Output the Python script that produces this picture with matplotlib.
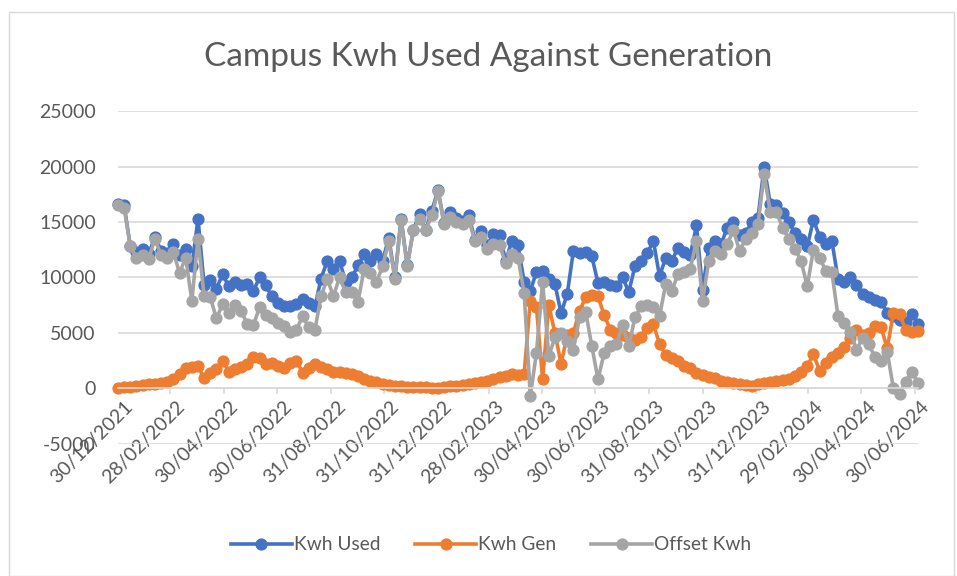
import matplotlib
matplotlib.use("Agg")
import matplotlib.pyplot as plt
import matplotlib.transforms as mtransforms
import pandas as pd
from matplotlib.patches import Rectangle

plt.rcParams['font.family'] = ['Lato', 'DejaVu Sans']

start_date = "2021-12-30"
end_date = "2024-07-04"

kwh_used = [
    16600, 16500, 12800, 12300, 12600, 12100, 13700, 12400, 12200, 13000,
    12000, 12600, 11000, 15300, 9300, 9800, 9000, 10300, 9200, 9600,
    9300, 9400, 8800, 10000, 9300, 8300, 7700, 7400, 7400, 7600,
    8100, 7700, 7400, 9900, 11500, 10800, 11500, 9600, 10000, 11100,
    12100, 11500, 12100, 11500, 13600, 10000, 15300, 11100, 14300, 15700,
    14300, 16000, 17900, 14900, 15900, 15400, 15100, 15600, 13400, 14200,
    12900, 13900, 13800, 11500, 13300, 12900, 9600, 8800, 10500, 10600,
    9900, 9400, 6800, 8500, 12400, 12200, 12300, 11900, 9500, 9600,
    9300, 9200, 10000, 8700, 11000, 11500, 12200, 13300, 10100, 11800,
    11500, 12700, 12300, 12000, 14700, 8900, 12700, 13300, 13000, 14500,
    15000, 13800, 14000, 15000, 15400, 20000, 16600, 16500, 15800, 15000,
    14000, 13500, 12800, 15200, 13700, 13000, 13300, 9900, 9600, 10000,
    9300, 8500, 8200, 8000, 7800, 6800, 6500, 6200, 6000, 6700,
    5800,
]

kwh_gen = [
    0, 100, 150, 200, 300, 350, 400, 500, 600, 800,
    1300, 1800, 1900, 2000, 900, 1400, 1700, 2500, 1500, 1700,
    1900, 2200, 2800, 2700, 2200, 2300, 2000, 1800, 2300, 2500,
    1400, 1800, 2200, 1900, 1700, 1500, 1500, 1400, 1300, 1100,
    800, 700, 600, 400, 300, 250, 200, 150, 150, 100,
    100, 50, 50, 150, 200, 250, 300, 400, 500, 600,
    700, 850, 1000, 1150, 1300, 1200, 1300, 7900, 7300, 800,
    7500, 5000, 2200, 4800, 5000, 7000, 8200, 8400, 8300, 6600,
    5300, 5000, 4800, 4500, 4400, 4600, 5400, 5800, 4000, 3000,
    2700, 2500, 2000, 1800, 1400, 1200, 1000, 900, 700, 600,
    500, 350, 300, 250, 400, 500, 600, 700, 750, 850,
    1100, 1500, 2000, 3100, 1600, 2300, 2800, 3200, 3700, 4500,
    5300, 4800, 5000, 5600, 5500, 3600, 6800, 6700, 5300, 5100,
    5200,
]

offset_kwh = [
    16500, 16300, 12800, 11800, 12000, 11700, 13500, 12000, 11800, 12300,
    10400, 11800, 7900, 13500, 8300, 8200, 6300, 7600, 6800, 7500,
    7000, 5800, 5700, 7300, 6600, 6300, 5900, 5600, 5100, 5300,
    6500, 5500, 5300, 8300, 9900, 8300, 10000, 8700, 8700, 7800,
    10800, 10400, 9600, 11000, 13300, 9900, 15200, 11000, 14300, 15300,
    14300, 15600, 17800, 14800, 15500, 15000, 14800, 15200, 13300, 13700,
    12600, 13000, 12900, 11300, 12100, 11800, 8600, -700, 3200, 9600,
    2900, 4600, 5000, 4300, 3500, 6400, 6900, 3800, 800, 3200,
    3800, 4000, 5700, 3800, 6400, 7400, 7500, 7300, 6500, 9400,
    8800, 10300, 10500, 10800, 13300, 7900, 11500, 12400, 12100, 13000,
    14300, 12400, 13500, 14000, 14800, 19300, 15900, 15900, 14500, 13500,
    12600, 11500, 9200, 12500, 11800, 10600, 10500, 6500, 5900, 5100,
    3500, 4500, 4000, 2800, 2500, 3300, 0, -500, 600, 1500,
    450,
]

series_names = ["Kwh Used", "Kwh Gen", "Offset Kwh"]
series_colors = ["#4472C4", "#ED7D31", "#A5A5A5"]

tick_dates = ["2021-12-30", "2022-02-28", "2022-04-30", "2022-06-30",
              "2022-08-31", "2022-10-31", "2022-12-31", "2023-02-28",
              "2023-04-30", "2023-06-30", "2023-08-31", "2023-10-31",
              "2023-12-31", "2024-02-29", "2024-04-30", "2024-06-30"]
tick_labels = ["30/12/2021", "28/02/2022", "30/04/2022", "30/06/2022",
               "31/08/2022", "31/10/2022", "31/12/2022", "28/02/2023",
               "30/04/2023", "30/06/2023", "31/08/2023", "31/10/2023",
               "31/12/2023", "29/02/2024", "30/04/2024", "30/06/2024"]
y_ticks = [-5000, 0, 5000, 10000, 15000, 20000, 25000]

title = "Campus Kwh Used Against Generation"

dates = pd.date_range(start_date, end_date, periods=len(kwh_used))

W, H = 957, 576
fig = plt.figure(figsize=(W / 100, H / 100), dpi=100)
fig.patches.append(Rectangle((9 / W, 0), (W - 12) / W, 1 - 12 / H,
                             transform=fig.transFigure, fill=False,
                             edgecolor="#d9d9d9", lw=1))

ax = fig.add_axes([118 / W, 1 - 443.7 / H, 800 / W, (443.7 - 111.3) / H])

for vals, name, col in zip([kwh_used, kwh_gen, offset_kwh], series_names, series_colors):
    ax.plot(dates, vals, color=col, lw=2.6, marker="o", ms=7.8,
            label=name, clip_on=False, solid_joinstyle="round")

for s in ["top", "right", "left"]:
    ax.spines[s].set_visible(False)
ax.spines["bottom"].set_position(("data", 0))
ax.spines["bottom"].set_color("#d9d9d9")
ax.spines["bottom"].set_linewidth(1.2)

ax.set_ylim(y_ticks[0], y_ticks[-1])
ax.set_yticks(y_ticks)
ax.set_yticklabels([str(v) for v in y_ticks])
ax.set_xlim(dates[0], dates[-1])
ax.set_xticks(pd.to_datetime(tick_dates))
ax.set_xticklabels(tick_labels)

ax.grid(axis="y", color="#d9d9d9", lw=1.2)
ax.set_axisbelow(True)
ax.tick_params(axis="x", length=4, width=1.2, color="#d9d9d9",
               labelcolor="#595959", labelsize=14, pad=3)
ax.tick_params(axis="y", length=0, labelcolor="#595959", labelsize=14, pad=16)
shift = mtransforms.ScaledTranslation(6 / 100, 0, fig.dpi_scale_trans)
for lbl in ax.get_xticklabels():
    lbl.set_rotation(45)
    lbl.set_ha("right")
    lbl.set_va("top")
    lbl.set_rotation_mode("anchor")
    lbl.set_transform(lbl.get_transform() + shift)

fig.text(488 / W, 1 - 57 / H, title, ha="center", va="center",
         fontsize=24, color="#595959")

fig.legend(loc="center", bbox_to_anchor=(491 / W, 1 - 545 / H), ncol=3,
           frameon=False, fontsize=13.8, labelcolor="#595959",
           handlelength=3.2, handletextpad=0.1, columnspacing=1.8)

fig.savefig("out.png", dpi=100)
